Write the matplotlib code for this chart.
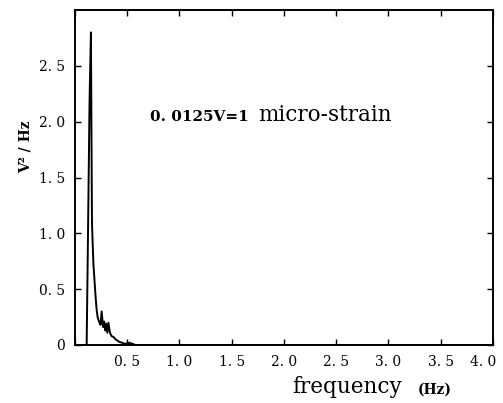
import matplotlib
matplotlib.use("Agg")
from matplotlib import pyplot as plt
from matplotlib.transforms import ScaledTranslation

# spectrum
freq = [0.0, 0.112, 0.125, 0.14, 0.153, 0.158, 0.163, 0.168, 0.177, 0.187, 0.197,
        0.207, 0.217, 0.23, 0.245, 0.255, 0.27, 0.28, 0.29, 0.30, 0.31, 0.32,
        0.335, 0.35, 0.37, 0.39, 0.42, 0.45, 0.48, 0.52, 0.55, 0.58, 4.0]
power = [0.0, 0.0, 1.0, 2.2, 2.8, 1.9, 1.1, 0.95, 0.72, 0.58, 0.44,
         0.32, 0.25, 0.21, 0.18, 0.3, 0.16, 0.21, 0.13, 0.19, 0.11, 0.2,
         0.11, 0.08, 0.07, 0.05, 0.03, 0.02, 0.01, 0.02, 0.01, 0.0, 0.0]

xticks = [0, 0.5, 1.0, 1.5, 2.0, 2.5, 3.0, 3.5, 4.0]
xlabels = ["", "0. 5", "1. 0", "1. 5", "2. 0", "2. 5", "3. 0", "3. 5", "4. 0"]
yticks = [0, 0.5, 1.0, 1.5, 2.0, 2.5]
ylabels = ["0", "0. 5", "1. 0", "1. 5", "2. 0", "2. 5"]

serif = "DejaVu Serif"

fig = plt.figure(figsize=(5.03, 4.03), dpi=100)
ax = fig.add_axes([0.149, 0.144, 0.831, 0.831])

ax.plot(freq, power, color="black", linewidth=1.4)

ax.set_xlim(0, 4.0)
ax.set_ylim(0, 3.0)
ax.set_xticks(xticks)
ax.set_xticklabels(xlabels, fontfamily=serif, fontsize=10)
ax.set_yticks(yticks)
ax.set_yticklabels(ylabels, fontfamily=serif, fontsize=10)
ax.tick_params(direction="in", length=4, width=1, top=True, right=True, pad=7)
for s in ax.spines.values():
    s.set_linewidth(1.4)

# last x label sits a little left so it stays inside the picture
last = ax.get_xticklabels()[-1]
last.set_transform(last.get_transform()
                   + ScaledTranslation(-7 / 72, 0, fig.dpi_scale_trans))

ax.text(0.72, 2.01, "0. 0125V=1", fontfamily=serif, fontweight="bold",
        fontsize=11, va="baseline")
ax.text(1.75, 2.01, "micro-strain", fontfamily=serif, fontsize=15.5,
        va="baseline")

fig.text(0.05, 0.635, "V² / Hz", fontfamily=serif, fontweight="bold",
         fontsize=10, rotation=90, ha="center", va="center")
fig.text(0.582, 0.025, "frequency", fontfamily=serif, fontsize=15.5,
         va="baseline")
fig.text(0.831, 0.022, "(Hz)", fontfamily=serif, fontweight="bold",
         fontsize=10, va="baseline")

fig.savefig("out.png", dpi=100)
